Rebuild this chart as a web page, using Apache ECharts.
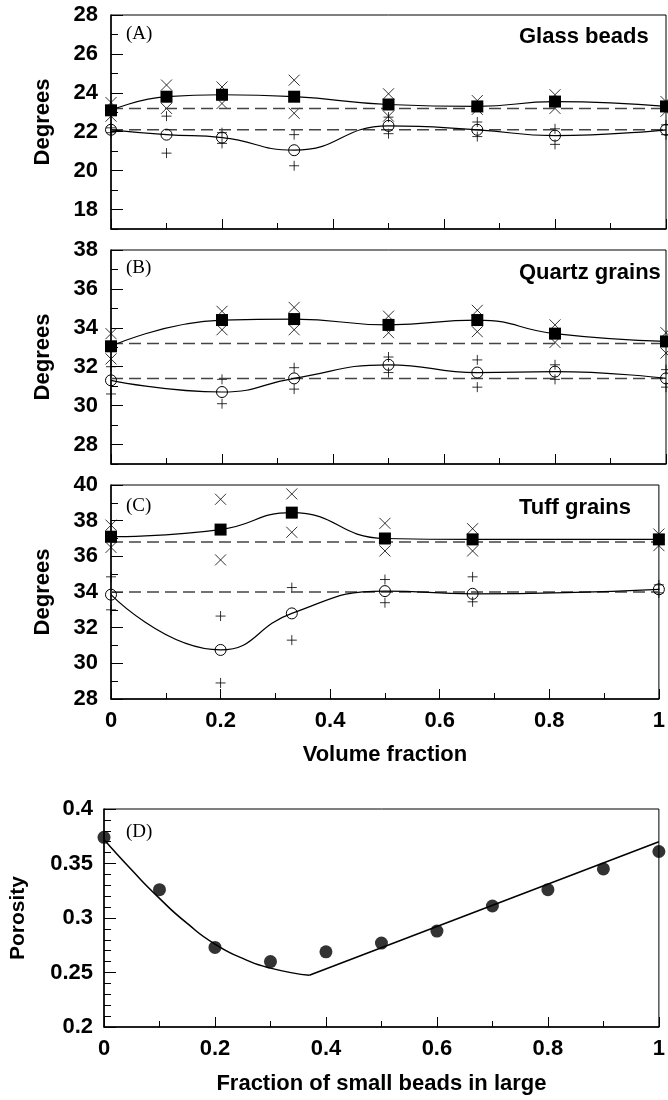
<!DOCTYPE html>
<html>
<head>
<meta charset="utf-8">
<script src="https://cdn.jsdelivr.net/npm/echarts@6/dist/echarts.min.js"></script>
<style>
  html, body { margin: 0; padding: 0; background: #fff; }
  #chart { width: 668px; height: 1100px; }
</style>
</head>
<body>
<div id="chart"></div>
<script>
// (A) Glass beads
var xA = [0, 0.1, 0.2, 0.33, 0.5, 0.66, 0.8, 1];
var squareA = [23.1, 23.8, 23.9, 23.8, 23.4, 23.3, 23.55, 23.3];
var circleA = [22.1, 21.85, 21.7, 21.05, 22.3, 22.1, 21.8, 22.1];
var crossHiA = [23.5, 24.4, 24.3, 24.65, 23.95, 23.6, 23.9, 23.55];
var crossLoA = [22.8, 23.2, 23.45, 22.95, 22.8, 23.15, 23.2, 23.05];
var plusHiA = [22.2, 22.8, 21.95, 21.85, 22.75, 22.5, 22.15, 22.35];
var plusLoA = [21.95, 20.9, 21.4, 20.25, 21.9, 21.75, 21.35, 21.85];
var dashA = [23.2, 22.1];
var majorA = [18, 20, 22, 24, 26, 28];
var minorA = [17, 19, 21, 23, 25, 27];

// (B) Quartz grains
var xB = [0, 0.2, 0.33, 0.5, 0.66, 0.8, 1];
var squareB = [33.05, 34.4, 34.45, 34.15, 34.4, 33.7, 33.3];
var circleB = [31.3, 30.7, 31.4, 32.1, 31.7, 31.75, 31.4];
var crossHiB = [33.7, 34.85, 35.05, 34.6, 34.9, 34.15, 33.75];
var crossLoB = [32.4, 33.9, 33.9, 33.75, 33.8, 33.25, 32.7];
var plusHiB = [32.0, 31.35, 31.95, 32.5, 32.35, 32.1, 31.85];
var plusLoB = [30.6, 30.1, 30.85, 31.7, 30.95, 31.35, 30.95];
var dashB = [33.2, 31.4];
var majorB = [28, 30, 32, 34, 36, 38];
var minorB = [27, 29, 31, 33, 35, 37];

// (C) Tuff grains
var xC = [0, 0.2, 0.33, 0.5, 0.66, 1];
var squareC = [37.1, 37.5, 38.45, 37.0, 36.95, 36.95];
var circleC = [33.85, 30.75, 32.8, 34.05, 33.9, 34.15];
var crossHiC = [37.75, 39.2, 39.5, 37.85, 37.55, 37.25];
var crossLoC = [36.5, 35.8, 37.35, 36.3, 36.3, 36.6];
var plusHiC = [34.85, 32.65, 34.25, 34.7, 34.85, 34.4];
var plusLoC = [33.0, 28.9, 31.3, 33.4, 33.45, 33.95];
var dashC = [36.8, 34.0];
var majorC = [28, 30, 32, 34, 36, 38, 40];
var minorC = [29, 31, 33, 35, 37, 39];

// (D) porosity
var xD = [0, 0.1, 0.2, 0.3, 0.4, 0.5, 0.6, 0.7, 0.8, 0.9, 1];
var porosity = [0.374, 0.326, 0.273, 0.260, 0.269, 0.277, 0.288, 0.311, 0.326, 0.345, 0.361];
var fitCurveX = [0, 0.05, 0.1, 0.15, 0.2, 0.25, 0.3, 0.37];
var fitCurveY = [0.372, 0.344, 0.318, 0.295, 0.276, 0.263, 0.254, 0.2475];
var fitLineX = [0.37, 1];
var fitLineY = [0.2475, 0.370];

var FONT = 'Liberation Sans';
var crossPath = 'path://M0,0L10,10M10,0L0,10';
var plusPath = 'path://M5,0L5,10M0,5L10,5';

function pairs(xs, ys) {
  return xs.map(function (x, i) { return [x, ys[i]]; });
}

var myChart = echarts.init(document.getElementById('chart'));

var grids = [
  { left: 111, top: 15, right: 2, height: 214 },
  { left: 111, top: 250, right: 2, height: 214 },
  { left: 111, top: 485, right: 2, height: 214 },
  { left: 103, top: 809, right: 2, height: 218 }
];
grids.forEach(function (g) {
  g.show = true;
  g.borderColor = '#000';
  g.borderWidth = 1;
  g.backgroundColor = 'transparent';
});

function xAxisFor(i, showLabel, name, nameGap) {
  return {
    type: 'value', gridIndex: i, min: 0, max: 1, interval: 0.2,
    name: name || '', nameLocation: 'middle', nameGap: nameGap || 0,
    nameTextStyle: { fontFamily: FONT, fontWeight: 'bold', fontSize: 22, color: '#000' },
    axisLine: { lineStyle: { color: '#000', width: 1.5 } },
    axisTick: { inside: true, length: 10, lineStyle: { color: '#000', width: 1 } },
    minorTick: { show: true, splitNumber: 2, length: 6, lineStyle: { color: '#000', width: 1 } },
    axisLabel: {
      show: showLabel, margin: 11, alignMinLabel: 'center', alignMaxLabel: 'center',
      fontFamily: FONT, fontWeight: 'bold', fontSize: 22, color: '#000'
    },
    splitLine: { show: false }
  };
}

function yMain(i, min, max, major) {
  return {
    type: 'value', gridIndex: i, min: min, max: max, position: 'left',
    name: 'Degrees', nameLocation: 'middle', nameGap: 57,
    nameTextStyle: { fontFamily: FONT, fontWeight: 'bold', fontSize: 22, color: '#000' },
    axisLine: { lineStyle: { color: '#000', width: 1.5 } },
    axisTick: { inside: true, length: 12, customValues: major, lineStyle: { color: '#000', width: 1 } },
    axisLabel: { customValues: major, margin: 13, fontFamily: FONT, fontWeight: 'bold', fontSize: 22, color: '#000' },
    splitLine: { show: false }
  };
}

function yMinor(i, min, max, minor) {
  return {
    type: 'value', gridIndex: i, min: min, max: max, position: 'left',
    axisLine: { show: false },
    axisTick: { inside: true, length: 7, customValues: minor, lineStyle: { color: '#000', width: 1 } },
    axisLabel: { show: false },
    splitLine: { show: false }
  };
}

function panelSeries(gi, yi, xs, sq, ci, cHi, cLo, pHi, pLo, dash) {
  var out = [];
  dash.forEach(function (v) {
    out.push({
      type: 'line', xAxisIndex: gi, yAxisIndex: yi, data: [[0, v], [1, v]],
      symbol: 'none', silent: true,
      lineStyle: { color: '#444', width: 1.5, type: [12, 6] }
    });
  });
  out.push({
    type: 'line', xAxisIndex: gi, yAxisIndex: yi, data: pairs(xs, sq), smooth: 0.5,
    symbol: 'rect', symbolSize: 12,
    itemStyle: { color: '#000' }, lineStyle: { color: '#000', width: 1.2 }
  });
  out.push({
    type: 'line', xAxisIndex: gi, yAxisIndex: yi, data: pairs(xs, ci), smooth: 0.5,
    symbol: 'circle', symbolSize: 11, showAllSymbol: true,
    itemStyle: { color: 'none', borderColor: '#000', borderWidth: 1 },
    lineStyle: { color: '#000', width: 1.2 }
  });
  [cHi, cLo].forEach(function (ys) {
    out.push({
      type: 'scatter', xAxisIndex: gi, yAxisIndex: yi, data: pairs(xs, ys),
      symbol: crossPath, symbolSize: 11,
      itemStyle: { color: 'none', borderColor: '#000', borderWidth: 1 }
    });
  });
  [pHi, pLo].forEach(function (ys) {
    out.push({
      type: 'scatter', xAxisIndex: gi, yAxisIndex: yi, data: pairs(xs, ys),
      symbol: plusPath, symbolSize: 10,
      itemStyle: { color: 'none', borderColor: '#000', borderWidth: 1 }
    });
  });
  return out;
}

var series = [].concat(
  panelSeries(0, 0, xA, squareA, circleA, crossHiA, crossLoA, plusHiA, plusLoA, dashA),
  panelSeries(1, 2, xB, squareB, circleB, crossHiB, crossLoB, plusHiB, plusLoB, dashB),
  panelSeries(2, 4, xC, squareC, circleC, crossHiC, crossLoC, plusHiC, plusLoC, dashC)
);

series.push({
  type: 'line', xAxisIndex: 3, yAxisIndex: 6, data: pairs(fitCurveX, fitCurveY),
  smooth: 0.6, symbol: 'none', lineStyle: { color: '#000', width: 1.5 }
});
series.push({
  type: 'line', xAxisIndex: 3, yAxisIndex: 6, data: pairs(fitLineX, fitLineY),
  symbol: 'none', lineStyle: { color: '#000', width: 1.5 }
});
series.push({
  type: 'scatter', xAxisIndex: 3, yAxisIndex: 6, data: pairs(xD, porosity),
  symbol: 'circle', symbolSize: 13, itemStyle: { color: '#000' }
});

function panelTitle(text, left, top, serif) {
  return {
    text: text, left: left, top: top, padding: 0,
    textStyle: serif
      ? { fontFamily: 'Liberation Serif', fontWeight: 'normal', fontSize: 19, color: '#000' }
      : { fontFamily: FONT, fontWeight: 'bold', fontSize: 22, color: '#000' }
  };
}

var option = {
  animation: false,
  backgroundColor: '#fff',
  title: [
    panelTitle('(A)', 126, 25, true),
    panelTitle('(B)', 126, 259, true),
    panelTitle('(C)', 126, 497, true),
    panelTitle('(D)', 126, 823, true),
    panelTitle('Glass beads', 519, 26, false),
    panelTitle('Quartz grains', 519, 262, false),
    panelTitle('Tuff grains', 519, 497, false)
  ],
  grid: grids,
  xAxis: [
    xAxisFor(0, false),
    xAxisFor(1, false),
    xAxisFor(2, true, 'Volume fraction', 45),
    xAxisFor(3, true, 'Fraction of small beads in large', 46)
  ],
  yAxis: [
    yMain(0, 17, 28, majorA), yMinor(0, 17, 28, minorA),
    yMain(1, 27, 38, majorB), yMinor(1, 27, 38, minorB),
    yMain(2, 28, 40, majorC), yMinor(2, 28, 40, minorC),
    {
      type: 'value', gridIndex: 3, min: 0.2, max: 0.4, interval: 0.05,
      name: 'Porosity', nameLocation: 'middle', nameGap: 75,
      nameTextStyle: { fontFamily: FONT, fontWeight: 'bold', fontSize: 21, color: '#000' },
      axisLine: { lineStyle: { color: '#000', width: 1.5 } },
      axisTick: { inside: true, length: 12, lineStyle: { color: '#000', width: 1 } },
      minorTick: { show: true, splitNumber: 5, length: 7, lineStyle: { color: '#000', width: 1 } },
      axisLabel: { margin: 11, fontFamily: FONT, fontWeight: 'bold', fontSize: 22, color: '#000' },
      splitLine: { show: false }
    }
  ],
  series: series
};

myChart.setOption(option);
</script>
</body>
</html>
